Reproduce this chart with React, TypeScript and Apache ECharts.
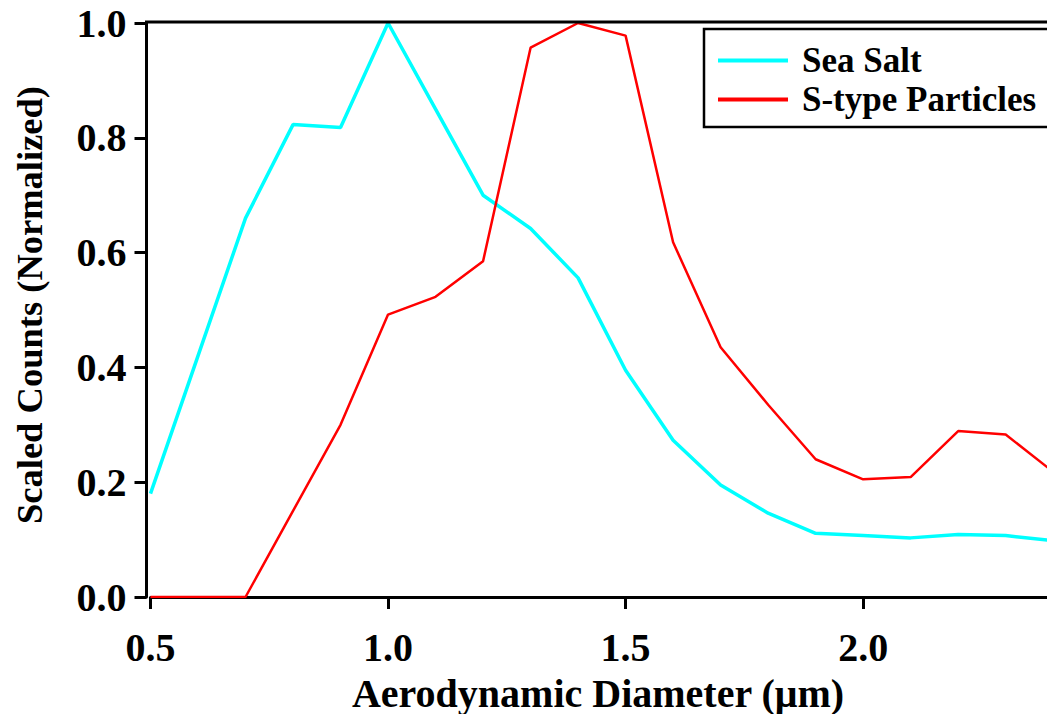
import React, { useEffect, useRef } from "react";
import * as echarts from "echarts";

const diameters = [0.5, 0.6, 0.7, 0.8, 0.9, 1.0, 1.1, 1.2, 1.3, 1.4, 1.5, 1.6, 1.7, 1.8, 1.9, 2.0, 2.1, 2.2, 2.3, 2.4];
const seaSalt = [0.18, 0.42, 0.66, 0.823, 0.818, 1.0, 0.85, 0.70, 0.642, 0.556, 0.395, 0.273, 0.195, 0.146, 0.111, 0.107, 0.103, 0.109, 0.107, 0.098];
const sType = [0.0, 0.0, 0.0, 0.15, 0.30, 0.492, 0.523, 0.585, 0.957, 1.0, 0.978, 0.618, 0.435, 0.335, 0.240, 0.205, 0.209, 0.289, 0.283, 0.218];
const yTicks = [0.0, 0.2, 0.4, 0.6, 0.8, 1.0];
const xTicks = [0.5, 1.0, 1.5, 2.0];

const FONT = "'Liberation Serif', 'Times New Roman', serif";

export default function App() {
  const ref = useRef<HTMLDivElement>(null);
  useEffect(() => {
    if (!ref.current) return;
    const chart = echarts.init(ref.current, null, { renderer: "svg" });
    const pair = (arr: number[]) => diameters.map((d, i) => [d, arr[i]]);
    chart.setOption({
      animation: false,
      backgroundColor: "#ffffff",
      grid: { left: 150.5, top: 23, right: 0, bottom: 117 },
      xAxis: {
        type: "value",
        min: 0.5,
        max: 2.387,
        interval: 0.5,
        offset: 5,
        axisLine: { show: true, lineStyle: { color: "#000", width: 3 } },
        axisTick: { show: true, length: 12, lineStyle: { color: "#000", width: 3 } },
        splitLine: { show: false },
        axisLabel: {
          color: "#000",
          fontFamily: FONT,
          fontWeight: "bold",
          fontSize: 40,
          margin: 25,
          showMaxLabel: false,
          formatter: (v: number) => (xTicks.includes(Math.round(v * 10) / 10) ? v.toFixed(1) : ""),
        },
      },
      yAxis: {
        type: "value",
        min: 0,
        max: 1,
        interval: 0.2,
        offset: 4,
        axisLine: { show: true, lineStyle: { color: "#000", width: 3 } },
        axisTick: { show: true, length: 12, lineStyle: { color: "#000", width: 3 } },
        splitLine: { show: false },
        axisLabel: {
          color: "#000",
          fontFamily: FONT,
          fontWeight: "bold",
          fontSize: 40,
          margin: 20,
          formatter: (v: number) => (yTicks.some((t) => Math.abs(t - v) < 1e-6) ? v.toFixed(1) : ""),
        },
      },
      legend: {
        left: 704,
        top: 29,
        orient: "vertical",
        backgroundColor: "#fff",
        borderColor: "#000",
        borderWidth: 2.5,
        borderRadius: 0,
        padding: [12, 40, 8, 14],
        itemGap: 0,
        itemWidth: 70,
        itemHeight: 4,
        icon: "rect",
        textStyle: {
          color: "#000",
          fontFamily: FONT,
          fontWeight: "bold",
          fontSize: 35,
          lineHeight: 39,
          padding: [0, 0, 0, 9],
        },
        data: ["Sea Salt", "S-type Particles"],
      },
      graphic: [
        {
          type: "line",
          shape: { x1: 145, y1: 22, x2: 1047, y2: 22 },
          style: { stroke: "#000", lineWidth: 3 },
          z: 10,
        },
        {
          type: "text",
          x: 598,
          y: 693,
          style: {
            text: "Aerodynamic Diameter (\u03bcm)",
            fontFamily: FONT,
            fontWeight: "bold",
            fontSize: 40,
            fill: "#000",
            align: "center",
            verticalAlign: "middle",
          },
        },
        {
          type: "text",
          x: 29,
          y: 305,
          rotation: Math.PI / 2,
          style: {
            text: "Scaled Counts (Normalized)",
            fontFamily: FONT,
            fontWeight: "bold",
            fontSize: 36.5,
            fill: "#000",
            align: "center",
            verticalAlign: "middle",
          },
        },
      ],
      series: [
        {
          name: "Sea Salt",
          type: "line",
          data: pair(seaSalt),
          showSymbol: false,
          symbol: "none",
          lineStyle: { color: "#00ffff", width: 3.5 },
          itemStyle: { color: "#00ffff" },
          clip: true,
        },
        {
          name: "S-type Particles",
          type: "line",
          data: pair(sType),
          showSymbol: false,
          symbol: "none",
          lineStyle: { color: "#ff0000", width: 2.5 },
          itemStyle: { color: "#ff0000" },
          clip: true,
        },
      ],
    });
    return () => chart.dispose();
  }, []);
  return <div ref={ref} style={{ position: "absolute", left: 0, top: 0, width: 1047, height: 714 }} />;
}
